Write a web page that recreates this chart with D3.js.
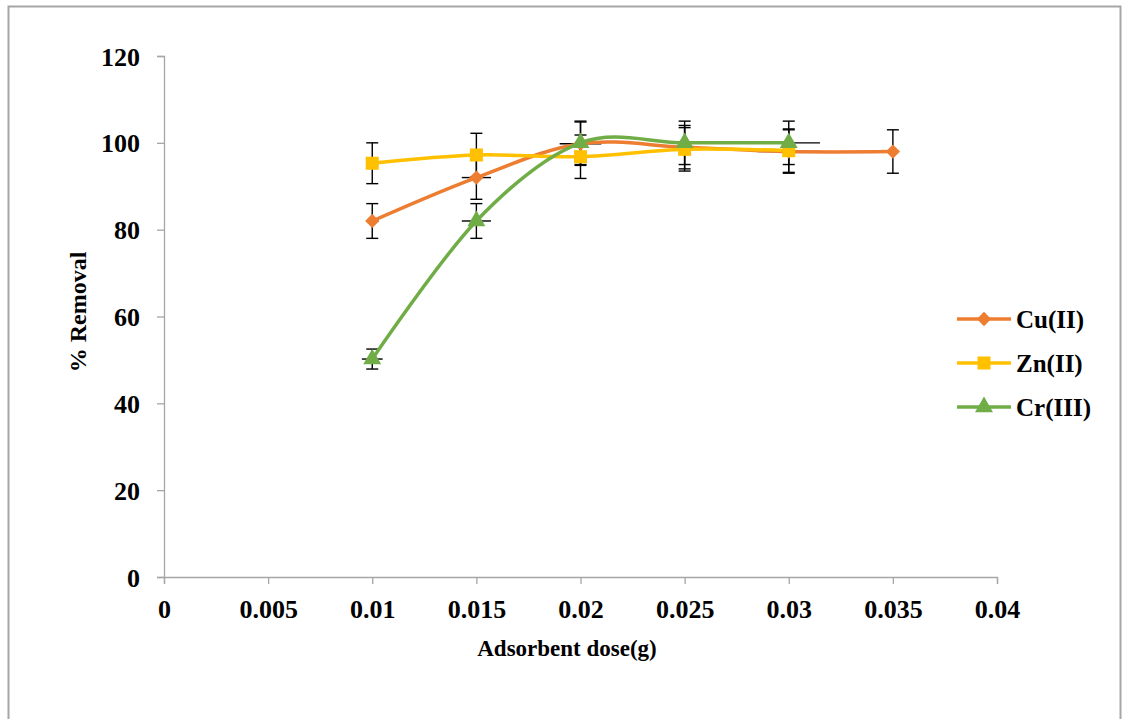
<!DOCTYPE html>
<html>
<head>
<meta charset="utf-8">
<script src="https://cdn.jsdelivr.net/npm/d3@7"></script>
<style>
  html, body { margin: 0; padding: 0; background: #fff; }
  svg { display: block; }
  text { font-family: "Liberation Serif", "Times New Roman", serif; font-weight: bold; fill: #000; }
</style>
</head>
<body>
<svg id="chart" width="1128" height="719"></svg>
<script>
// Adsorbent dose (g) and % removal for each metal ion
const cuDose = [0.01, 0.015, 0.02, 0.025, 0.03, 0.035];
const cuRemoval = [82, 92, 99.8, 99, 98, 98];
const cuError = [4, 5, 5, 5, 5, 5];

const znDose = [0.01, 0.015, 0.02, 0.025, 0.03];
const znRemoval = [95.3, 97.2, 96.8, 98.5, 98.2];
const znError = [4.7, 5, 5, 5, 5];

const crDose = [0.01, 0.015, 0.02, 0.025, 0.03];
const crRemoval = [50.2, 82, 100, 100, 100];
const crError = [2.3, 4, 5, 5, 5];
// horizontal (dose) error half-widths
const cuDoseError = [0.0003, 0.0007, 0.001, 0, 0.0015, 0];
const znDoseError = [0.0003, 0, 0, 0, 0];
const crDoseError = [0.0005, 0.0007, 0, 0, 0.0015];

const xTicks = [0, 0.005, 0.01, 0.015, 0.02, 0.025, 0.03, 0.035, 0.04];
const yTicks = [0, 20, 40, 60, 80, 100, 120];

const seriesNames = ["Cu(II)", "Zn(II)", "Cr(III)"];
const seriesColors = ["#ED7D31", "#FFC000", "#70AD47"];
const seriesShapes = [d3.symbolDiamond2, d3.symbolSquare, d3.symbolTriangle];

const series = [
  { name: seriesNames[0], dose: cuDose, val: cuRemoval, err: cuError, xerr: cuDoseError, color: seriesColors[0], shape: seriesShapes[0], size: 130 },
  { name: seriesNames[1], dose: znDose, val: znRemoval, err: znError, xerr: znDoseError, color: seriesColors[1], shape: seriesShapes[1], size: 170 },
  { name: seriesNames[2], dose: crDose, val: crRemoval, err: crError, xerr: crDoseError, color: seriesColors[2], shape: seriesShapes[2], size: 140 }
];

const svg = d3.select("#chart");

// outer chart frame
svg.append("rect")
  .attr("x", 8.5).attr("y", 6.5)
  .attr("width", 1112).attr("height", 730)
  .attr("fill", "none").attr("stroke", "#a6a6a6").attr("stroke-width", 2);

const x = d3.scaleLinear().domain([0, 0.04]).range([164, 997]);
const y = d3.scaleLinear().domain([0, 120]).range([577, 56]);

// axes
const xAxis = svg.append("g")
  .attr("transform", `translate(0,${y(0)})`)
  .call(d3.axisBottom(x).tickValues(xTicks).tickSize(7).tickPadding(16)
    .tickFormat(d => d3.format("")(+d.toFixed(3))));
const yAxis = svg.append("g")
  .attr("transform", `translate(${x(0)},0)`)
  .call(d3.axisLeft(y).tickValues(yTicks).tickSize(7).tickPadding(17));

[xAxis, yAxis].forEach(g => {
  g.select(".domain").attr("stroke", "#a6a6a6").attr("stroke-width", 1.3);
  g.selectAll(".tick line").attr("stroke", "#a6a6a6").attr("stroke-width", 1.3);
  g.selectAll(".tick text")
    .attr("font-family", "Liberation Serif, Times New Roman, serif")
    .attr("font-weight", "bold").attr("font-size", 26).attr("fill", "#000");
});
yAxis.selectAll(".tick text").attr("dy", "0.35em");

// axis titles
svg.append("text")
  .attr("x", 567).attr("y", 648).attr("dy", "0.35em")
  .attr("text-anchor", "middle").attr("font-size", 23)
  .text("Adsorbent dose(g)");
svg.append("text")
  .attr("transform", "translate(78,312) rotate(-90)")
  .attr("dy", "0.35em")
  .attr("text-anchor", "middle").attr("font-size", 24)
  .text("% Removal");

const plot = svg.append("g");

// error bars (vertical with caps, horizontal without)
series.forEach(s => {
  const g = plot.append("g");
  s.dose.forEach((d, i) => {
    const cx = x(d);
    const top = y(s.val[i] + s.err[i]);
    const bot = y(s.val[i] - s.err[i]);
    g.append("line").attr("x1", cx).attr("x2", cx).attr("y1", top).attr("y2", bot)
      .attr("stroke", "#000").attr("stroke-width", 1.4);
    [top, bot].forEach(yy => {
      g.append("line").attr("x1", cx - 6).attr("x2", cx + 6).attr("y1", yy).attr("y2", yy)
        .attr("stroke", "#000").attr("stroke-width", 1.4);
    });
    if (s.xerr[i] > 0) {
      g.append("line")
        .attr("x1", x(d - s.xerr[i])).attr("x2", x(d + s.xerr[i]))
        .attr("y1", y(s.val[i])).attr("y2", y(s.val[i]))
        .attr("stroke", "#000").attr("stroke-width", 1.4);
    }
  });
});

// smoothed series lines
const line = d3.line()
  .x(p => x(p[0])).y(p => y(p[1]))
  .curve(d3.curveCardinal.tension(0));

series.forEach(s => {
  plot.append("path")
    .datum(s.dose.map((d, i) => [d, s.val[i]]))
    .attr("d", line)
    .attr("fill", "none")
    .attr("stroke", s.color)
    .attr("stroke-width", 3.5)
    .attr("stroke-linejoin", "round");
});

// markers
series.forEach(s => {
  plot.append("g").selectAll("path")
    .data(s.dose.map((d, i) => [d, s.val[i]]))
    .join("path")
    .attr("transform", p => `translate(${x(p[0])},${y(p[1])})`)
    .attr("d", d3.symbol().type(s.shape).size(s.size))
    .attr("fill", s.color);
});

// legend
const legend = svg.append("g");
series.forEach((s, i) => {
  const ly = 319 + i * 44;
  legend.append("line")
    .attr("x1", 957).attr("x2", 1011).attr("y1", ly).attr("y2", ly)
    .attr("stroke", s.color).attr("stroke-width", 3.5);
  legend.append("path")
    .attr("transform", `translate(984,${ly})`)
    .attr("d", d3.symbol().type(s.shape).size(s.size))
    .attr("fill", s.color);
  legend.append("text")
    .attr("x", 1016).attr("y", ly).attr("dy", "0.35em")
    .attr("font-size", 25)
    .text(s.name);
});
</script>
</body>
</html>
